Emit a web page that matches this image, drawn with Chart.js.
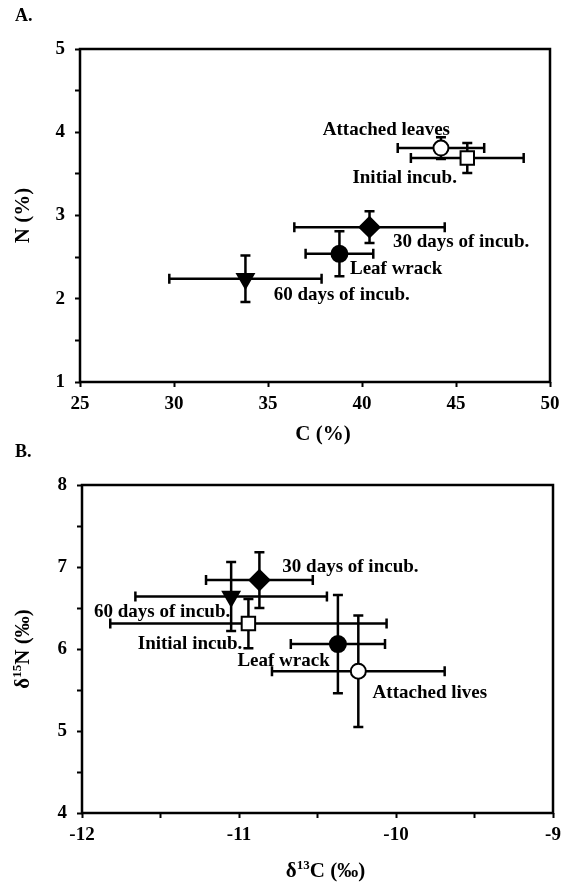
<!DOCTYPE html>
<html>
<head>
<meta charset="utf-8">
<script src="https://cdn.jsdelivr.net/npm/chart.js@4.4.1/dist/chart.umd.min.js"></script>
<style>
  html, body { margin: 0; padding: 0; background: #fff; }
  #page { position: relative; width: 568px; height: 885px; overflow: hidden; }
  canvas { position: absolute; left: 0; }
</style>
</head>
<body>
<div id="page">
  <canvas id="chartA" width="568" height="450" style="top:0"></canvas>
  <canvas id="chartB" width="568" height="455" style="top:430px"></canvas>
</div>
<script>
// sample groups
const namesA = ['Attached leaves', 'Initial incub.', '30 days of incub.', 'Leaf wrack', '60 days of incub.'];
const namesB = ['Attached lives', 'Initial incub.', '30 days of incub.', 'Leaf wrack', '60 days of incub.'];

// A. carbon and nitrogen content (%), mean and sd
const cMean = [44.2, 45.6, 40.4, 38.8, 33.8];
const cSd = [2.3, 3.0, 4.0, 1.8, 4.05];
const nMean = [3.81, 3.69, 2.86, 2.54, 2.24];
const nSd = [0.13, 0.18, 0.19, 0.27, 0.28];

// B. stable isotopes (‰), mean and sd
const d13cMean = [-10.24, -10.94, -10.87, -10.37, -11.05];
const d13cSd = [0.55, 0.88, 0.34, 0.30, 0.61];
const d15nMean = [5.73, 6.31, 6.84, 6.06, 6.64];
const d15nSd = [0.68, 0.30, 0.34, 0.60, 0.42];

// labelled ticks
const ticksAx = [25, 30, 35, 40, 45, 50];
const ticksAy = [1, 2, 3, 4, 5];
const ticksBx = [-12, -11, -10, -9];
const ticksBy = [4, 5, 6, 7, 8];

const FONT = '"Liberation Serif", "Times New Roman", serif';

// one marker per group, same order in both panels
const markers = [
  { style: 'circle', fill: '#fff', r: 7.5, rot: 0 },
  { style: 'rect', fill: '#fff', r: 9.5, rot: 0 },
  { style: 'rectRot', fill: '#000', r: 10, rot: 0 },
  { style: 'circle', fill: '#000', r: 8, rot: 0 },
  { style: 'triangle', fill: '#000', r: 9.5, rot: 180 }
];

// where each group name sits (data units, text baseline)
const placeA = [
  { x: 44.68, y: 3.97, align: 'right' },
  { x: 45.05, y: 3.39, align: 'right' },
  { x: 41.65, y: 2.62, align: 'left' },
  { x: 39.36, y: 2.30, align: 'left' },
  { x: 35.3, y: 1.98, align: 'left' }
];
const placeB = [
  { x: -10.149, y: 5.40, align: 'left' },
  { x: -10.979, y: 6.00, align: 'right' },
  { x: -10.724, y: 6.94, align: 'left' },
  { x: -11.01, y: 5.79, align: 'left' },
  { x: -11.056, y: 6.39, align: 'right' }
];

// draws a title made of plain and superscript pieces, centred on (cx, cy)
function drawRich(ctx, parts, cx, cy, vertical) {
  const main = 'bold 21px ' + FONT;
  const sup = 'bold 13px ' + FONT;
  let w = 0;
  parts.forEach(p => { ctx.font = p.sup ? sup : main; w += ctx.measureText(p.t).width; });
  ctx.save();
  ctx.translate(cx, cy);
  if (vertical) ctx.rotate(-Math.PI / 2);
  ctx.fillStyle = '#000';
  ctx.textAlign = 'left';
  ctx.textBaseline = 'alphabetic';
  let x = -w / 2;
  parts.forEach(p => {
    ctx.font = p.sup ? sup : main;
    ctx.fillText(p.t, x, p.sup ? -1 : 7);
    x += ctx.measureText(p.t).width;
  });
  ctx.restore();
}

function decor(o) {
  return {
    id: 'decor',
    beforeDatasetsDraw(chart) {
      const { ctx, scales: { x, y } } = chart;
      const cap = 5;
      ctx.save();
      ctx.strokeStyle = '#000';
      ctx.lineWidth = 2.5;
      o.xs.forEach((xv, i) => {
        const yv = o.ys[i];
        const px = x.getPixelForValue(xv), py = y.getPixelForValue(yv);
        const x0 = x.getPixelForValue(xv - o.xErr[i]), x1 = x.getPixelForValue(xv + o.xErr[i]);
        const y0 = y.getPixelForValue(yv - o.yErr[i]), y1 = y.getPixelForValue(yv + o.yErr[i]);
        ctx.beginPath();
        ctx.moveTo(x0, py); ctx.lineTo(x1, py);
        ctx.moveTo(x0, py - cap); ctx.lineTo(x0, py + cap);
        ctx.moveTo(x1, py - cap); ctx.lineTo(x1, py + cap);
        ctx.moveTo(px, y0); ctx.lineTo(px, y1);
        ctx.moveTo(px - cap, y0); ctx.lineTo(px + cap, y0);
        ctx.moveTo(px - cap, y1); ctx.lineTo(px + cap, y1);
        ctx.stroke();
      });
      ctx.restore();
    },
    afterDatasetsDraw(chart) {
      const { ctx, chartArea: a, scales: { x, y } } = chart;
      ctx.save();
      // plot frame
      ctx.strokeStyle = '#000';
      ctx.lineWidth = 2.5;
      ctx.strokeRect(a.left, a.top, a.right - a.left, a.bottom - a.top);

      // group names
      ctx.fillStyle = '#000';
      ctx.font = 'bold 19px ' + FONT;
      ctx.textBaseline = 'alphabetic';
      o.names.forEach((t, i) => {
        const p = o.place[i];
        ctx.textAlign = p.align;
        ctx.fillText(t, x.getPixelForValue(p.x), y.getPixelForValue(p.y));
      });

      // panel letter
      ctx.font = 'bold 18px ' + FONT;
      ctx.textAlign = 'left';
      ctx.textBaseline = 'middle';
      ctx.fillText(o.tag, 15, a.top - 33);
      ctx.restore();

      drawRich(ctx, o.xTitle, (a.left + a.right) / 2 + 8, o.xTitleY, false);
      drawRich(ctx, o.yTitle, 22, (a.top + a.bottom) / 2, true);
    }
  };
}

function buildChart(id, o) {
  const tickFont = { family: FONT, size: 19, weight: 'bold' };
  const points = o.xs.map((v, i) => ({ x: v, y: o.ys[i] }));
  return new Chart(document.getElementById(id), {
    type: 'scatter',
    data: {
      datasets: [{
        data: points,
        pointStyle: markers.map(m => m.style),
        pointRadius: markers.map(m => m.r),
        pointRotation: markers.map(m => m.rot),
        pointBackgroundColor: markers.map(m => m.fill),
        pointBorderColor: '#000',
        pointBorderWidth: 2
      }]
    },
    options: {
      responsive: false,
      animation: false,
      events: [],
      layout: { padding: o.pad },
      plugins: { legend: { display: false }, tooltip: { enabled: false } },
      scales: {
        x: {
          type: 'linear',
          min: o.xTicks[0],
          max: o.xTicks[o.xTicks.length - 1],
          ticks: {
            stepSize: o.xStep, autoSkip: false, maxRotation: 0, color: '#000', font: tickFont, padding: 6,
            callback: v => o.xTicks.includes(v) ? String(v) : ''
          },
          grid: { drawOnChartArea: false, drawTicks: true, tickLength: 5, tickWidth: 2, tickColor: '#000' },
          border: { display: false },
          afterFit: s => { s.height = o.xAxisH; }
        },
        y: {
          type: 'linear',
          min: o.yTicks[0],
          max: o.yTicks[o.yTicks.length - 1],
          ticks: {
            stepSize: 0.5, autoSkip: false, color: '#000', font: tickFont, padding: 10,
            callback: v => o.yTicks.includes(v) ? String(v) : ''
          },
          grid: { drawOnChartArea: false, drawTicks: true, tickLength: 5, tickWidth: 2, tickColor: '#000' },
          border: { display: false },
          afterFit: s => { s.width = o.yAxisW; }
        }
      }
    },
    plugins: [decor(o)]
  });
}

buildChart('chartA', {
  tag: 'A.',
  names: namesA, place: placeA,
  xs: cMean, xErr: cSd, ys: nMean, yErr: nSd,
  xTicks: ticksAx, xStep: 5, yTicks: ticksAy,
  pad: { top: 49, right: 18, bottom: 0, left: 0 },
  yAxisW: 80, xAxisH: 68,
  xTitle: [{ t: 'C (%)' }], xTitleY: 433,
  yTitle: [{ t: 'N (%)' }]
});

buildChart('chartB', {
  tag: 'B.',
  names: namesB, place: placeB,
  xs: d13cMean, xErr: d13cSd, ys: d15nMean, yErr: d15nSd,
  xTicks: ticksBx, xStep: 0.5, yTicks: ticksBy,
  pad: { top: 55, right: 15, bottom: 0, left: 0 },
  yAxisW: 82, xAxisH: 72,
  xTitle: [{ t: 'δ' }, { t: '13', sup: true }, { t: 'C (‰)' }], xTitleY: 440,
  yTitle: [{ t: 'δ' }, { t: '15', sup: true }, { t: 'N (‰)' }]
});
</script>
</body>
</html>
